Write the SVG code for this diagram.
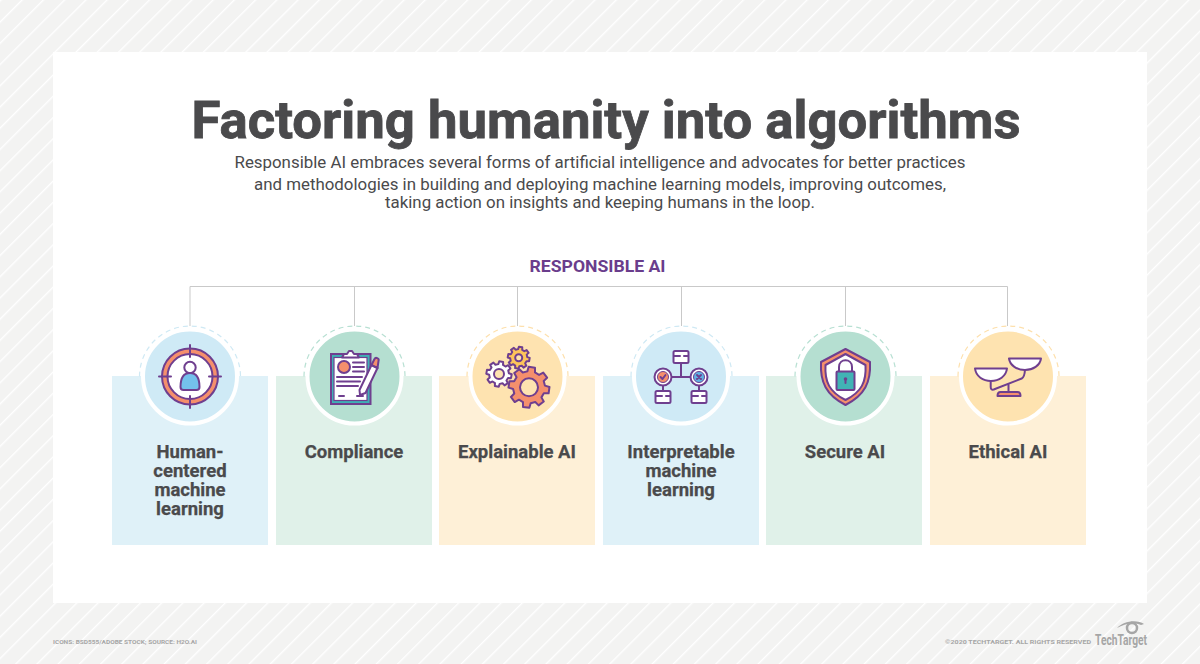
<svg xmlns="http://www.w3.org/2000/svg" width="1200" height="664" viewBox="0 0 1200 664">
<style>
text{font-family:"Roboto","Liberation Sans",sans-serif;fill:#4a4a4c}
.lab{font-size:18.500px;font-weight:700;text-anchor:middle;stroke:#4a4a4c;stroke-width:.25}
.sub{font-size:16.500px;text-anchor:middle}
.foot{font-size:6.200px;font-weight:700;fill:#a6a6a6}
.ring{fill:none;stroke:#fff;stroke-width:4}
.dash{fill:none;stroke-width:1.200;stroke-dasharray:5 4}
.p{stroke:#6f3f8f;stroke-width:2;stroke-linejoin:round;stroke-linecap:round}
.l{fill:none;stroke:#6f3f8f;stroke-width:2;stroke-linecap:round;stroke-linejoin:round}
.conn{stroke:#c9c9c9;stroke-width:1;fill:none}
.gear{stroke:#6f3f8f;stroke-width:2;stroke-linejoin:round}
</style>
<defs>
<pattern id="st" width="15" height="15" patternUnits="userSpaceOnUse" patternTransform="rotate(45)">
<rect width="15" height="15" fill="#f3f3f2"/><rect width="1.400" height="15" fill="#fff"/>
</pattern>
<polygon id="g8" vector-effect="non-scaling-stroke" points=".757,-.189 .988,-.156 .988,.156 .757,.189 .669,.402 .809,.588 .588,.809 .402,.669 .189,.757 .156,.988 -.156,.988 -.189,.757 -.402,.669 -.588,.809 -.809,.588 -.669,.402 -.757,.189 -.988,.156 -.988,-.156 -.757,-.189 -.669,-.402 -.809,-.588 -.588,-.809 -.402,-.669 -.189,-.757 -.156,-.988 .156,-.988 .189,-.757 .402,-.669 .588,-.809 .809,-.588 .669,-.402"/>
</defs>
<rect width="1200" height="664" fill="url(#st)"/>
<rect x="53" y="52" width="1094" height="551" fill="#fff"/>
<text x="606" y="137.500" text-anchor="middle" font-size="52" font-weight="700" stroke="#4a4a4c" stroke-width=".8" textLength="829" lengthAdjust="spacingAndGlyphs">Factoring humanity into algorithms</text>
<text class="sub" x="600" y="168" textLength="731" lengthAdjust="spacingAndGlyphs">Responsible AI embraces several forms of artificial intelligence and advocates for better practices</text>
<text class="sub" x="600" y="190" textLength="692" lengthAdjust="spacingAndGlyphs">and methodologies in building and deploying machine learning models, improving outcomes,</text>
<text class="sub" x="600" y="208" textLength="430" lengthAdjust="spacingAndGlyphs">taking action on insights and keeping humans in the loop.</text>
<text x="597.500" y="272" text-anchor="middle" font-size="16" font-weight="700" style="fill:#6a3d8c" textLength="136" lengthAdjust="spacingAndGlyphs">RESPONSIBLE AI</text>
<g id="connectors">
<path class="conn" d="M190 326V286.500H1007.500V326M354.500 286.500V326M517.500 286.500V326M681.500 286.500V326M845.500 286.500V326"/>
</g>
<g id="node-human">
<rect x="112" y="376" width="156" height="169" fill="#dff1f8"/>
<path class="dash" stroke="#cfe9f4" d="M139.500 376.500a50.500 50.500 0 0 1 101 0"/>
<circle cx="190" cy="376.500" r="47" fill="#cfeaf6"/><circle class="ring" cx="190" cy="376.500" r="47"/>
<circle cx="190" cy="376.500" r="28" fill="#f58f6c" stroke="#6f3f8f" stroke-width="2"/>
<circle cx="190" cy="376.500" r="22.500" fill="#fff" stroke="#6f3f8f" stroke-width="2"/>
<path class="l" d="M190 345v12M190 396v12M159 376.500h12M209 376.500h12"/>
<circle class="p" cx="190" cy="367.500" r="5.700" fill="#fff"/>
<path class="p" fill="#74c1ec" d="M180.500 387c0-9 3-14 9.500-14s9.500 5 9.500 14c0 2-1 3-3 3h-13c-2 0-3-1-3-3z"/>
<text class="lab" x="190" y="457.500">Human-</text><text class="lab" x="190" y="476.500">centered</text><text class="lab" x="190" y="495.500">machine</text><text class="lab" x="190" y="514.500">learning</text>
</g>
<g id="node-compliance">
<rect x="276" y="376" width="156" height="169" fill="#e0f1e9"/>
<path class="dash" stroke="#b8e0d3" d="M304 376.500a50.500 50.500 0 0 1 101 0"/>
<circle cx="354.500" cy="376.500" r="47" fill="#b5dfd1"/><circle class="ring" cx="354.500" cy="376.500" r="47"/>
<rect x="331" y="354" width="39.500" height="50" fill="#3fb0b5" stroke="#6f3f8f" stroke-width="2"/>
<rect x="334" y="357.500" width="33" height="43" fill="#fff" stroke="#6f3f8f" stroke-width="1.200"/>
<path class="p" fill="#fff" d="M342 357.500l2-3.500h3l2-3h3l2 3h3l2 3.500z"/>
<circle class="p" cx="344" cy="367" r="6" fill="#f58f6c"/>
<path class="l" d="M353 362.500h11M353 367h11M353 371.500h11M337 377h25M337 381.500h23M337 386h21M339 396h5M357 396h6"/>
<path class="p" fill="#fff" d="M360 395l-.5-5 12-25 6 3-12 25z"/>
<path class="p" fill="#f58f6c" d="M371.500 365l3-6c1-2 5-1 4 2l-1 7z"/>
<text class="lab" x="354" y="457.500">Compliance</text>
</g>
<g id="node-explainable">
<rect x="439" y="376" width="156" height="169" fill="#fef0d7"/>
<path class="dash" stroke="#fde0ad" d="M467 376.500a50.500 50.500 0 0 1 101 0"/>
<circle cx="517.500" cy="376.500" r="47" fill="#fee3b0"/><circle class="ring" cx="517.500" cy="376.500" r="47"/>
<use href="#g8" class="gear" fill="#fff" transform="translate(499 374) rotate(10) scale(12.700)"/>
<circle cx="499" cy="374" r="5" fill="#fee3b0" stroke="#6f3f8f" stroke-width="2"/>
<use href="#g8" class="gear" fill="#fdc55a" transform="translate(518.700 357.700) rotate(10) scale(11)"/>
<circle cx="518.700" cy="357.700" r="3.500" fill="#fee3b0" stroke="#6f3f8f" stroke-width="2"/>
<use href="#g8" class="gear" fill="#f58f6c" transform="translate(529 387.300) rotate(8) scale(20.500)"/>
<circle cx="529" cy="387.300" r="9" fill="#fee3b0" stroke="#6f3f8f" stroke-width="2"/>
<text class="lab" x="517" y="457.500">Explainable AI</text>
</g>
<g id="node-interpretable">
<rect x="603" y="376" width="156" height="169" fill="#dff1f8"/>
<path class="dash" stroke="#cfe9f4" d="M631 376.500a50.500 50.500 0 0 1 101 0"/>
<circle cx="681" cy="376.500" r="47" fill="#cfeaf6"/><circle class="ring" cx="681" cy="376.500" r="47"/>
<path class="l" d="M681 364v13M664 377h34M663 385v6M699 385v6"/>
<rect class="p" x="673.500" y="351" width="15" height="12" rx="1.500" fill="#fff"/><path class="l" d="M674 356h6M684 356h4"/>
<rect class="p" x="655.500" y="391" width="15" height="12" rx="1.500" fill="#fff"/><path class="l" d="M656 396h6M666 396h4"/>
<rect class="p" x="691.500" y="391" width="15" height="12" rx="1.500" fill="#fff"/><path class="l" d="M692 396h6M702 396h4"/>
<circle class="p" cx="663" cy="377" r="8.500" fill="#fff"/><circle cx="663" cy="377" r="5.500" fill="#f58f6c" stroke="#6f3f8f"/>
<path class="l" d="M660.500 377l2 2 3-4" stroke-width="1.200"/>
<circle class="p" cx="699" cy="377" r="8.500" fill="#fff"/><circle cx="699" cy="377" r="5.500" fill="#5fb2e4" stroke="#6f3f8f"/>
<path class="l" d="M697 375l4 4M701 375l-4 4" stroke-width="1.200"/>
<text class="lab" x="681" y="457.500">Interpretable</text><text class="lab" x="681" y="476.500">machine</text><text class="lab" x="681" y="495.500">learning</text>
</g>
<g id="node-secure">
<rect x="766" y="376" width="156" height="169" fill="#e0f1e9"/>
<path class="dash" stroke="#b8e0d3" d="M795 376.500a50.500 50.500 0 0 1 101 0"/>
<circle cx="845.500" cy="376.500" r="47" fill="#b5dfd1"/><circle class="ring" cx="845.500" cy="376.500" r="47"/>
<path class="p" fill="#f58f6c" d="M845.500 349l24.500 13c1 20-5 33-24.500 43-19.500-10-25.500-23-24.500-43z"/>
<path class="p" fill="#fff" stroke-width="1.500" d="M845.500 354l20 11c1 17-4 27-20 35-16-8-21-18-20-35z"/>
<path class="l" d="M839 371v-4c0-9 13-9 13 0v4"/>
<rect class="p" x="836.500" y="371.500" width="18" height="18.500" rx="1" fill="#41b3b5"/>
<circle cx="845.500" cy="379" r="1.800" fill="#6f3f8f"/><path class="l" d="M845.500 379v4" stroke-width="1.300"/>
<text class="lab" x="845" y="457.500">Secure AI</text>
</g>
<g id="node-ethical">
<rect x="930" y="376" width="156" height="169" fill="#fef0d7"/>
<path class="dash" stroke="#fde0ad" d="M958 376.500a50.500 50.500 0 0 1 101 0"/>
<circle cx="1008" cy="376.500" r="47" fill="#fee3b0"/><circle class="ring" cx="1008" cy="376.500" r="47"/>
<path class="l" d="M990.700 380v7c0 2 1 3 3 2.500l28-11c2-1 3-3 3.300-9M1008.500 384v8"/>
<path class="p" fill="#f58f6c" d="M997.500 396c0-3 1-4 3-4h17c2 0 3 1 3 4z"/>
<path class="p" fill="#fff" d="M975 368.500h32c-1 8-8 12.500-16 12.500s-15-4.500-16-12.500z"/>
<path class="p" fill="#fff" d="M1009 358.500h32c-1 7-8 11.500-16 11.500s-15-4.500-16-11.500z"/>
<text class="lab" x="1008" y="457.500">Ethical AI</text>
</g>
<text class="foot" x="53" y="644" textLength="144" lengthAdjust="spacingAndGlyphs">ICONS: BSD555/ADOBE STOCK; SOURCE: H2O.AI</text>
<text class="foot" x="945" y="644" textLength="146" lengthAdjust="spacingAndGlyphs">©2020 TECHTARGET. ALL RIGHTS RESERVED</text>
<text x="1095" y="645" font-size="14" font-weight="700" style="fill:#a6a6a6" textLength="52" lengthAdjust="spacingAndGlyphs">TechTarget</text>
<path d="M1117 628c6-7 20-9 27-4l-3 1c-8-3-17-1-24 3z" fill="#a6a6a6"/>
<circle cx="1132" cy="628" r="5" fill="none" stroke="#a6a6a6" stroke-width="2.500"/>
</svg>
